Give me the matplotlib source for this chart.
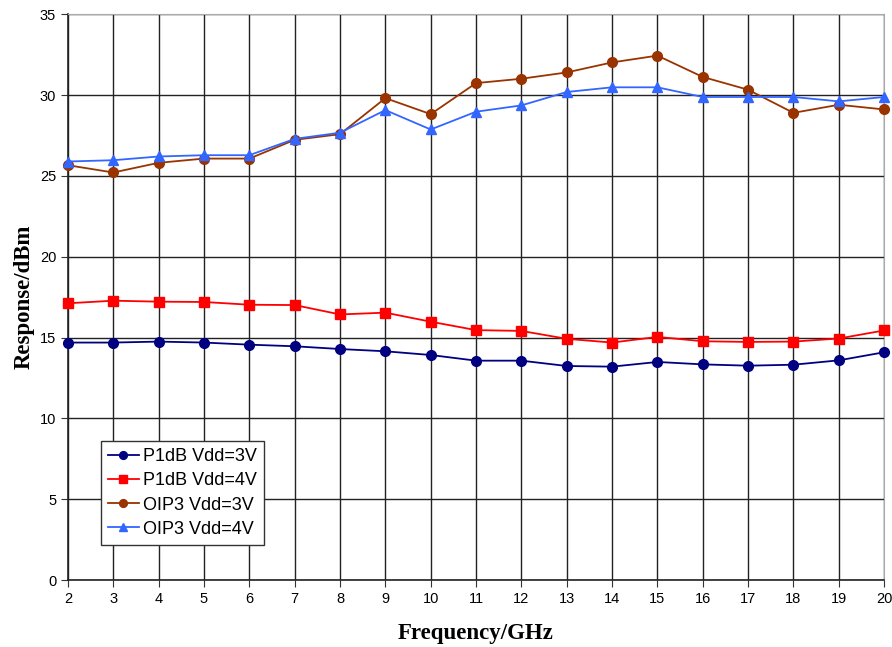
import matplotlib
matplotlib.use("Agg")
import matplotlib.pyplot as plt
import numpy as np

freq_ghz = [2, 3, 4, 5, 6, 7, 8, 9, 10, 11, 12, 13, 14, 15, 16, 17, 18, 19, 20]

p1db_3v = [14.69, 14.69, 14.75, 14.69, 14.56, 14.46, 14.29, 14.15, 13.92, 13.57,
           13.57, 13.24, 13.20, 13.49, 13.34, 13.26, 13.32, 13.59, 14.09]
p1db_4v = [17.12, 17.28, 17.22, 17.20, 17.03, 17.01, 16.43, 16.54, 15.98, 15.46,
           15.41, 14.92, 14.69, 15.04, 14.77, 14.73, 14.75, 14.94, 15.44]
oip3_3v = [25.66, 25.21, 25.81, 26.07, 26.07, 27.23, 27.58, 29.81, 28.82, 30.74,
           31.01, 31.40, 32.02, 32.44, 31.12, 30.33, 28.90, 29.40, 29.11]
oip3_4v = [25.89, 25.97, 26.20, 26.28, 26.28, 27.29, 27.67, 29.07, 27.87, 28.97,
           29.36, 30.19, 30.48, 30.48, 29.88, 29.88, 29.88, 29.61, 29.88]

series = [
    ("P1dB Vdd=3V", p1db_3v, "#000080", "o"),
    ("P1dB Vdd=4V", p1db_4v, "#FF0000", "s"),
    ("OIP3 Vdd=3V", oip3_3v, "#993300", "o"),
    ("OIP3 Vdd=4V", oip3_4v, "#3366FF", "^"),
]

plt.rcParams['font.family'] = ['Liberation Sans', 'DejaVu Sans']

fig = plt.figure(figsize=(8.92, 6.47), dpi=100)
ax = fig.add_axes([0.0762, 0.1035, 0.915, 0.8745])

for label, vals, color, marker in series:
    ax.plot(freq_ghz, vals, color=color, marker=marker, markersize=7,
            linewidth=1.3, label=label, clip_on=False, zorder=3)

ax.set_xlim(2, 20)
ax.set_ylim(0, 35)
ax.set_xticks(np.arange(2, 21, 1))
ax.set_yticks(np.arange(0, 36, 5))
ax.tick_params(direction='out', length=5, labelsize=10.5, color='#333333')

ax.grid(True, color='#222222', linewidth=1.0)
ax.set_axisbelow(True)
for side in ['top', 'right']:
    ax.spines[side].set_color('#aaaaaa')
for side in ['left', 'bottom']:
    ax.spines[side].set_color('#222222')
    ax.spines[side].set_linewidth(1.2)

ax.set_xlabel("Frequency/GHz", family='Liberation Serif', fontweight='bold',
              fontsize=16.5, labelpad=12)
ax.set_ylabel("Response/dBm", family='Liberation Serif', fontweight='bold',
              fontsize=16.5, labelpad=4)

leg = ax.legend(loc='lower left', bbox_to_anchor=(0.040, 0.062), fontsize=13,
                frameon=True, fancybox=False, framealpha=1, edgecolor='#333333',
                handlelength=1.7, borderpad=0.4, labelspacing=0.4,
                handletextpad=0.25, borderaxespad=0, markerscale=0.8)
leg.get_frame().set_linewidth(1.0)

fig.savefig("out.png", dpi=100)
